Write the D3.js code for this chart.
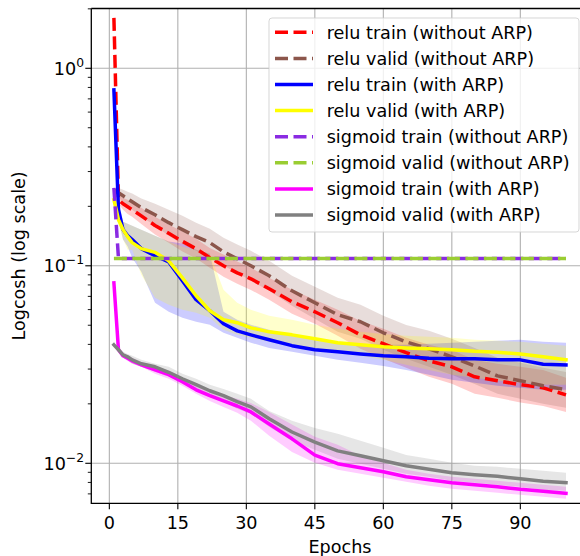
<!DOCTYPE html>
<html>
<head>
<meta charset="utf-8">
<script src="https://cdn.jsdelivr.net/npm/d3@7"></script>
<style>
  body { margin: 0; background: #fff; }
  svg { display: block; font-family: "DejaVu Sans", sans-serif; }
</style>
</head>
<body>
<div id="chart"></div>
<script>
const epochs = [1, 2, 3, 4, 5, 7, 10, 13, 16, 19, 22, 25, 28, 31, 35, 40, 45, 50, 55, 60, 65, 70, 75, 80, 85, 90, 95, 100];

const xTicks = [0, 15, 30, 45, 60, 75, 90];
const yMajorTicks = [0.01, 0.1, 1];
const yMajorLabels = [['10', '\u22122'], ['10', '\u22121'], ['10', '0']];
const yMinorTicks = [0.007, 0.008, 0.009, 0.02, 0.03, 0.04, 0.05, 0.06, 0.07, 0.08, 0.09,
  0.2, 0.3, 0.4, 0.5, 0.6, 0.7, 0.8, 0.9, 2];

const legendLabels = [
  'relu train (without ARP)', 'relu valid (without ARP)',
  'relu train (with ARP)', 'relu valid (with ARP)',
  'sigmoid train (without ARP)', 'sigmoid valid (without ARP)',
  'sigmoid train (with ARP)', 'sigmoid valid (with ARP)'
];

// relu train (without ARP)
const reluTrainNo = [1.80, 0.216, 0.206, 0.199, 0.192, 0.179, 0.160, 0.146, 0.133, 0.122, 0.110, 0.100, 0.0921, 0.0859, 0.0765, 0.0658, 0.0585, 0.0515, 0.0447, 0.0403, 0.0363, 0.0330, 0.0308, 0.0274, 0.0262, 0.0250, 0.0241, 0.0222];
const reluTrainNoHi = [1.80, 0.226, 0.221, 0.216, 0.208, 0.197, 0.177, 0.162, 0.149, 0.137, 0.123, 0.114, 0.105, 0.0977, 0.087, 0.0757, 0.0673, 0.0599, 0.0526, 0.048, 0.0432, 0.0398, 0.0375, 0.0334, 0.0319, 0.0308, 0.0297, 0.0271];
const reluTrainNoLo = [1.80, 0.206, 0.192, 0.183, 0.177, 0.163, 0.144, 0.131, 0.118, 0.109, 0.0977, 0.088, 0.081, 0.0755, 0.0673, 0.0572, 0.0509, 0.0443, 0.0380, 0.0338, 0.0305, 0.0274, 0.0253, 0.0225, 0.0215, 0.0203, 0.0195, 0.0182];

// relu valid (without ARP)
const reluValidNo = [0.2426, 0.2343, 0.2262, 0.2185, 0.2110, 0.1968, 0.1814, 0.1653, 0.1524, 0.1405, 0.1310, 0.1177, 0.1085, 0.100, 0.0890, 0.0747, 0.0650, 0.0565, 0.0521, 0.0458, 0.0412, 0.0380, 0.0346, 0.0311, 0.0277, 0.0262, 0.0247, 0.0236];
const reluValidNoHi = [0.2426, 0.248, 0.2425, 0.237, 0.232, 0.219, 0.206, 0.192, 0.179, 0.165, 0.154, 0.1385, 0.128, 0.119, 0.106, 0.089, 0.0783, 0.0689, 0.0635, 0.0558, 0.0502, 0.0469, 0.0427, 0.0383, 0.0342, 0.0323, 0.0305, 0.0290];
const reluValidNoLo = [0.2426, 0.221, 0.211, 0.201, 0.192, 0.177, 0.160, 0.142, 0.129, 0.119, 0.111, 0.100, 0.0922, 0.084, 0.0747, 0.0627, 0.0539, 0.0463, 0.0427, 0.0376, 0.0338, 0.0308, 0.0281, 0.0252, 0.0225, 0.0212, 0.0200, 0.0191];

// relu train (with ARP)
const reluTrainArp = [0.778, 0.1923, 0.1524, 0.1421, 0.1357, 0.1222, 0.1124, 0.1047, 0.0839, 0.0673, 0.0592, 0.0509, 0.0468, 0.0447, 0.0422, 0.0394, 0.0376, 0.0367, 0.0358, 0.0350, 0.0346, 0.0340, 0.0338, 0.0338, 0.0334, 0.0334, 0.0317, 0.0315];
const reluTrainArpHi = [0.778, 0.2160, 0.1673, 0.1634, 0.1596, 0.1524, 0.1421, 0.1326, 0.1295, 0.1205, 0.1150, 0.0585, 0.0533, 0.0503, 0.0474, 0.0442, 0.0422, 0.0412, 0.0403, 0.0398, 0.0398, 0.0403, 0.0408, 0.0412, 0.0417, 0.0422, 0.0412, 0.0408];
const reluTrainArpLo = [0.778, 0.1712, 0.1357, 0.1251, 0.1098, 0.0932, 0.0650, 0.0585, 0.0546, 0.0521, 0.0503, 0.0458, 0.0432, 0.0408, 0.0384, 0.0367, 0.0350, 0.0334, 0.0323, 0.0311, 0.0297, 0.0281, 0.0265, 0.0256, 0.0247, 0.0241, 0.0236, 0.0236];

// relu valid (with ARP)
const reluValidArp = [0.2160, 0.1712, 0.1524, 0.1405, 0.1310, 0.1222, 0.1170, 0.1060, 0.0869, 0.0705, 0.0592, 0.0533, 0.0515, 0.0485, 0.0463, 0.0447, 0.0427, 0.0408, 0.0398, 0.0389, 0.0384, 0.0380, 0.0376, 0.0369, 0.0365, 0.0358, 0.0346, 0.0334];
const reluValidArpHi = [0.2160, 0.1836, 0.1673, 0.1634, 0.1596, 0.1524, 0.1421, 0.1326, 0.1248, 0.1205, 0.1150, 0.0756, 0.0650, 0.0599, 0.0559, 0.0533, 0.0503, 0.0480, 0.0463, 0.0452, 0.0442, 0.0437, 0.0432, 0.0422, 0.0417, 0.0412, 0.0403, 0.0394];
const reluValidArpLo = [0.2160, 0.1634, 0.1357, 0.1205, 0.1205, 0.0900, 0.0689, 0.0635, 0.0599, 0.0578, 0.0546, 0.0474, 0.0447, 0.0432, 0.0412, 0.0398, 0.0384, 0.0367, 0.0350, 0.0334, 0.0315, 0.0297, 0.0281, 0.0271, 0.0262, 0.0256, 0.0250, 0.0250];

// sigmoid (without ARP) stays flat after the first epoch
const sigmoidTrainNo = [0.248, 0.109, 0.109, 0.109, 0.109, 0.109, 0.109, 0.109, 0.109, 0.109, 0.109, 0.109, 0.109, 0.109, 0.109, 0.109, 0.109, 0.109, 0.109, 0.109, 0.109, 0.109, 0.109, 0.109, 0.109, 0.109, 0.109, 0.109];
const sigmoidValidNo = [0.109, 0.109, 0.109, 0.109, 0.109, 0.109, 0.109, 0.109, 0.109, 0.109, 0.109, 0.109, 0.109, 0.109, 0.109, 0.109, 0.109, 0.109, 0.109, 0.109, 0.109, 0.109, 0.109, 0.109, 0.109, 0.109, 0.109, 0.109];

// sigmoid train (with ARP)
const sigmoidTrainArp = [0.0820, 0.03755, 0.0350, 0.0340, 0.0330, 0.0315, 0.02974, 0.0281, 0.0259, 0.02355, 0.0220, 0.0207, 0.0195, 0.0182, 0.0158, 0.0133, 0.0110, 0.00995, 0.00949, 0.00906, 0.00854, 0.00825, 0.00797, 0.00778, 0.00760, 0.00738, 0.00721, 0.00705];
const sigmoidTrainArpHi = [0.0820, 0.0384, 0.0358, 0.0350, 0.0342, 0.0326, 0.0311, 0.0294, 0.0271, 0.0247, 0.0233, 0.0222, 0.0212, 0.0202, 0.0182, 0.0157, 0.01362, 0.01241, 0.01091, 0.01006, 0.00927, 0.00885, 0.00854, 0.00835, 0.00815, 0.00797, 0.00778, 0.00760];
const sigmoidTrainArpLo = [0.0820, 0.0367, 0.0342, 0.0330, 0.0319, 0.0308, 0.0284, 0.0268, 0.0247, 0.0225, 0.0207, 0.0193, 0.0180, 0.0164, 0.0138, 0.0114, 0.01006, 0.00927, 0.00885, 0.00844, 0.00806, 0.00769, 0.00743, 0.00725, 0.00709, 0.00692, 0.00677, 0.00661];

// sigmoid valid (with ARP)
const sigmoidValidArp = [0.0398, 0.03755, 0.0354, 0.0346, 0.0334, 0.0319, 0.0308, 0.0289, 0.0268, 0.0250, 0.0233, 0.0220, 0.0205, 0.0193, 0.0168, 0.0144, 0.0128, 0.01156, 0.01091, 0.0103, 0.00972, 0.00932, 0.00895, 0.00875, 0.00859, 0.00835, 0.00811, 0.00797];
const sigmoidValidArpHi = [0.0398, 0.0389, 0.0367, 0.0358, 0.0350, 0.0334, 0.0319, 0.0308, 0.0284, 0.0268, 0.0250, 0.0238, 0.0225, 0.0212, 0.0184, 0.0164, 0.0151, 0.0141, 0.0130, 0.0120, 0.0110, 0.01054, 0.01006, 0.00972, 0.0096, 0.00938, 0.00916, 0.00895];
const sigmoidValidArpLo = [0.0398, 0.0363, 0.0342, 0.0334, 0.0319, 0.0308, 0.0291, 0.0274, 0.0253, 0.02355, 0.0217, 0.0205, 0.0189, 0.0178, 0.0153, 0.0130, 0.0117, 0.01054, 0.00995, 0.00938, 0.00885, 0.00854, 0.00815, 0.00797, 0.00778, 0.00760, 0.00734, 0.00725];

const series = [
  { label: legendLabels[0], color: '#ff0000', dashed: true, values: reluTrainNo, lo: reluTrainNoLo, hi: reluTrainNoHi },
  { label: legendLabels[1], color: '#8c564b', dashed: true, values: reluValidNo, lo: reluValidNoLo, hi: reluValidNoHi },
  { label: legendLabels[2], color: '#0000ff', dashed: false, values: reluTrainArp, lo: reluTrainArpLo, hi: reluTrainArpHi },
  { label: legendLabels[3], color: '#ffff00', dashed: false, values: reluValidArp, lo: reluValidArpLo, hi: reluValidArpHi },
  { label: legendLabels[4], color: '#8a2be2', dashed: true, values: sigmoidTrainNo, lo: null, hi: null },
  { label: legendLabels[5], color: '#9acd32', dashed: true, values: sigmoidValidNo, lo: null, hi: null },
  { label: legendLabels[6], color: '#ff00ff', dashed: false, values: sigmoidTrainArp, lo: sigmoidTrainArpLo, hi: sigmoidTrainArpHi },
  { label: legendLabels[7], color: '#808080', dashed: false, values: sigmoidValidArp, lo: sigmoidValidArpLo, hi: sigmoidValidArpHi }
];

const W = 580, H = 556;
const plot = { left: 91.3, top: 8.5, right: 588.6, bottom: 503.3 };
const fontSize = 17.6;

const svg = d3.select('#chart').append('svg')
  .attr('width', W)
  .attr('height', H);

const x = d3.scaleLinear().domain([-3.95, 104.95]).range([plot.left, plot.right]);
const y = d3.scaleLog().domain([0.006272, 2.008]).range([plot.bottom, plot.top]);

svg.append('defs').append('clipPath')
  .attr('id', 'plot-clip')
  .append('rect')
  .attr('x', plot.left)
  .attr('y', plot.top)
  .attr('width', plot.right - plot.left)
  .attr('height', plot.bottom - plot.top);

// Grid
const grid = svg.append('g');
grid.selectAll('.vgrid')
  .data(xTicks)
  .enter().append('line')
  .attr('x1', d => x(d)).attr('x2', d => x(d))
  .attr('y1', plot.top).attr('y2', plot.bottom)
  .attr('stroke', '#b0b0b0').attr('stroke-width', 1.1);
grid.selectAll('.hgrid')
  .data(yMajorTicks)
  .enter().append('line')
  .attr('x1', plot.left).attr('x2', plot.right)
  .attr('y1', d => y(d)).attr('y2', d => y(d))
  .attr('stroke', '#b0b0b0').attr('stroke-width', 1.1);

const data = series.map(s => ({
  ...s,
  points: epochs.map((e, i) => ({ e, v: s.values[i], lo: s.lo ? s.lo[i] : null, hi: s.hi ? s.hi[i] : null }))
}));

const plotArea = svg.append('g').attr('clip-path', 'url(#plot-clip)');

// Bands (drawn under every line)
const area = d3.area()
  .x(d => x(d.e))
  .y0(d => y(d.lo))
  .y1(d => y(d.hi));

plotArea.selectAll('.band')
  .data(data.filter(s => s.lo))
  .enter().append('path')
  .attr('d', s => area(s.points))
  .attr('fill', s => s.color)
  .attr('fill-opacity', 0.2)
  .attr('stroke', 'none');

const line = d3.line()
  .x(d => x(d.e))
  .y(d => y(d.v));

plotArea.selectAll('.curve')
  .data(data)
  .enter().append('path')
  .attr('d', s => line(s.points))
  .attr('fill', 'none')
  .attr('stroke', s => s.color)
  .attr('stroke-width', 3.5)
  .attr('stroke-linejoin', 'round')
  .attr('stroke-linecap', s => s.dashed ? 'butt' : 'square')
  .attr('stroke-dasharray', s => s.dashed ? '13,5.5' : null);

// Axes frame
svg.append('path')
  .attr('d', `M${plot.left},${plot.top}H${plot.right}M${plot.left},${plot.top}V${plot.bottom}H${plot.right}`)
  .attr('fill', 'none')
  .attr('stroke', '#000')
  .attr('stroke-width', 1.3);

// X ticks
const xAxis = svg.append('g');
xAxis.selectAll('line')
  .data(xTicks)
  .enter().append('line')
  .attr('x1', d => x(d)).attr('x2', d => x(d))
  .attr('y1', plot.bottom).attr('y2', plot.bottom + 6)
  .attr('stroke', '#000').attr('stroke-width', 1.1);
xAxis.selectAll('text')
  .data(xTicks)
  .enter().append('text')
  .attr('x', d => x(d))
  .attr('y', 529.3)
  .attr('text-anchor', 'middle')
  .style('font-size', fontSize + 'px')
  .text(d => d);

// Y ticks
const yAxis = svg.append('g');
yAxis.selectAll('.major')
  .data(yMajorTicks)
  .enter().append('line')
  .attr('x1', plot.left - 6).attr('x2', plot.left)
  .attr('y1', d => y(d)).attr('y2', d => y(d))
  .attr('stroke', '#000').attr('stroke-width', 1.1);
yAxis.selectAll('.minor')
  .data(yMinorTicks)
  .enter().append('line')
  .attr('x1', plot.left - 3.5).attr('x2', plot.left)
  .attr('y1', d => y(d)).attr('y2', d => y(d))
  .attr('stroke', '#000').attr('stroke-width', 0.9);

const yLabels = yAxis.selectAll('.ylab')
  .data(yMajorTicks)
  .enter().append('text')
  .attr('x', 84)
  .attr('y', d => y(d) + 6.5)
  .attr('text-anchor', 'end')
  .style('font-size', fontSize + 'px');
yLabels.append('tspan').text((d, i) => yMajorLabels[i][0]);
yLabels.append('tspan')
  .attr('dy', -8)
  .style('font-size', (fontSize * 0.7) + 'px')
  .text((d, i) => yMajorLabels[i][1]);

// Axis titles
svg.append('text')
  .attr('x', (plot.left + plot.right) / 2)
  .attr('y', 552.5)
  .attr('text-anchor', 'middle')
  .style('font-size', fontSize + 'px')
  .text('Epochs');

svg.append('text')
  .attr('transform', `translate(25,${(plot.top + plot.bottom) / 2}) rotate(-90)`)
  .attr('text-anchor', 'middle')
  .style('font-size', fontSize + 'px')
  .text('Logcosh (log scale)');

// Legend
const legend = svg.append('g').attr('transform', 'translate(269,18)');
legend.append('rect')
  .attr('width', 310)
  .attr('height', 214)
  .attr('rx', 3)
  .attr('fill', '#fff')
  .attr('fill-opacity', 0.8)
  .attr('stroke', '#cccccc')
  .attr('stroke-opacity', 0.8);

const rows = legend.selectAll('.row')
  .data(series)
  .enter().append('g')
  .attr('transform', (d, i) => `translate(0,${14.3 + i * 26.1})`);
rows.append('line')
  .attr('x1', 6).attr('x2', 44)
  .attr('y1', 0).attr('y2', 0)
  .attr('stroke', d => d.color)
  .attr('stroke-width', 3.5)
  .attr('stroke-dasharray', d => d.dashed ? '13,5.5' : null);
rows.append('text')
  .attr('x', 57.7)
  .attr('y', 6.3)
  .style('font-size', fontSize + 'px')
  .text(d => d.label);
</script>
</body>
</html>
